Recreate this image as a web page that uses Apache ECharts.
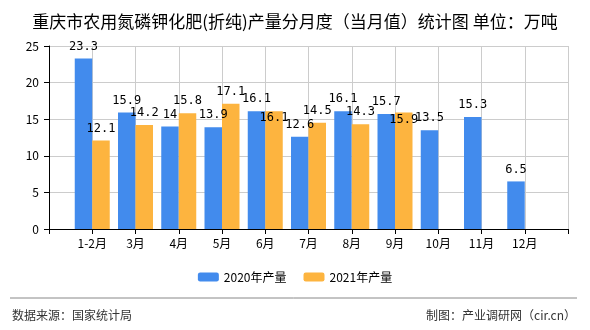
<!DOCTYPE html>
<html><head><meta charset="utf-8">
<script src="https://cdn.jsdelivr.net/npm/echarts@6/dist/echarts.min.js"></script>
<style>html,body{margin:0;padding:0;background:#fff}#c{width:590px;height:330px}</style>
</head><body><div id="c"></div>
<script>
const categories = ['', '1-2月', '3月', '4月', '5月', '6月', '7月', '8月', '9月', '10月', '11月', '12月', ''];
const values2020 = [null, 23.3, 15.9, 14, 13.9, 16.1, 12.6, 16.1, 15.7, 13.5, 15.3, 6.5, null];
const values2021 = [null, 12.1, 14.2, 15.8, 17.1, 16.1, 14.5, 14.3, 15.9, null, null, null, null];
const yTicks = [0, 5, 10, 15, 20, 25];
const seriesNames = ['2020年产量', '2021年产量'];

const F = '"Noto Sans CJK SC", "DejaVu Sans", sans-serif';
const chart = echarts.init(document.getElementById('c'), null, {renderer: 'canvas'});
const lbl = {show: true, position: 'top', color: '#000', fontSize: 12, fontFamily: '"DejaVu Sans Mono", monospace', distance: 6};
// labels pushed down where they collided in the original rendering
const shiftedDown2021 = [5, 8];
const data2021 = values2021.map((v, i) => shiftedDown2021.includes(i) ? {value: v, label: {offset: [0, 19]}} : v);
chart.setOption({
  animation: false,
  title: {text: '重庆市农用氮磷钾化肥(折纯)产量分月度（当月值）统计图 单位：万吨', left: 'center', top: 8,
    textStyle: {fontSize: 17, fontWeight: 'normal', color: '#000', fontFamily: F}},
  legend: {data: seriesNames, bottom: 42, left: 'center', itemWidth: 21, itemHeight: 9, itemGap: 17,
    textStyle: {fontSize: 12, color: '#000', fontFamily: F}},
  grid: {left: 49, right: 22, top: 46, bottom: 101, containLabel: false},
  xAxis: {type: 'category', data: categories, boundaryGap: false,
    axisLine: {lineStyle: {color: '#000'}}, axisTick: {show: true, length: 5, lineStyle: {color: '#000'}},
    axisLabel: {color: '#000', fontSize: 12, fontFamily: F, interval: 0, margin: 8},
    splitLine: {show: true, lineStyle: {color: '#ccc'}}},
  yAxis: {type: 'value', min: yTicks[0], max: yTicks[yTicks.length - 1], interval: 5,
    axisLine: {show: true, lineStyle: {color: '#000'}}, axisTick: {show: true, length: 5, lineStyle: {color: '#000'}},
    axisLabel: {color: '#000', fontSize: 12, fontFamily: F, margin: 10},
    splitLine: {show: true, lineStyle: {color: '#ccc'}}},
  series: [
    {name: seriesNames[0], type: 'bar', data: values2020, barWidth: 17.5, barGap: '0%', itemStyle: {color: '#428bed'}, label: lbl},
    {name: seriesNames[1], type: 'bar', data: data2021, barWidth: 17.5, barGap: '0%', itemStyle: {color: '#fdb43f'}, label: lbl}
  ],
  graphic: [
    {type: 'line', shape: {x1: 10, y1: 298, x2: 577, y2: 298}, style: {stroke: '#888', lineWidth: 1}},
    {type: 'text', left: 12, top: 309, style: {text: '数据来源：国家统计局', fontSize: 12, fill: '#333', fontFamily: F}},
    {type: 'text', right: 14, top: 309, style: {text: '制图：产业调研网（cir.cn）', fontSize: 12, fill: '#333', fontFamily: F}}
  ]
});
</script></body></html>
